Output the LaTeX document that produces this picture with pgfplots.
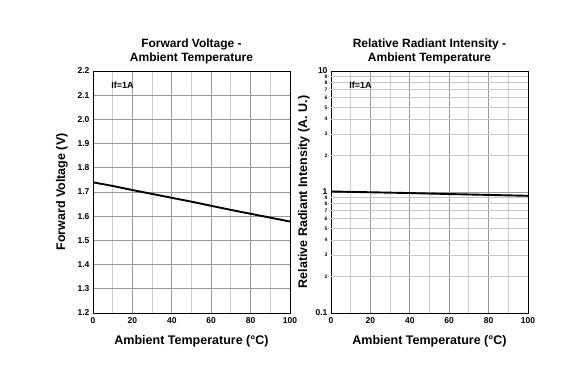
\documentclass[border=0pt]{standalone}
\usepackage{fontspec}
\setmainfont{Liberation Sans}
\usepackage{pgfplots}
\pgfplotsset{compat=1.18}
\pgfplotsset{
  common/.style={
    scale only axis, width=197pt, height=242pt, anchor=south west,
    xmin=0, xmax=100,
    xtick={0,20,40,60,80,100}, minor xtick={10,30,50,70,90},
    xmajorgrids, xminorgrids, ymajorgrids,
    major grid style={gray!80, line width=0.7pt},
    minor grid style={gray!40, line width=1.1pt},
    tick style={draw=none},
    axis line style={line width=0.9pt},
    ticklabel style={font=\bfseries\fontsize{8.5}{9}\selectfont},
    xticklabel style={yshift=-1pt},
    /pgf/number format/assume math mode=true,
    title style={align=center, font=\bfseries\fontsize{12}{14}\selectfont, yshift=-3pt},
    label style={font=\bfseries\fontsize{12.5}{14}\selectfont},
    xlabel={Ambient Temperature (°C)},
    xlabel style={yshift=-5pt},
  }
}
\begin{document}
\begin{tikzpicture}[x=1pt,y=1pt]
\path[use as bounding box] (0,0) rectangle (562,378);
\begin{axis}[common, at={(93pt,65pt)},
  ymin=1.2, ymax=2.2,
  ytick={1.2,1.3,1.4,1.5,1.6,1.7,1.8,1.9,2.0,2.1,2.2},
  yticklabels={1.2,1.3,1.4,1.5,1.6,1.7,1.8,1.9,2.0,2.1,2.2},
  title={Forward Voltage -\\Ambient Temperature},
  ylabel={Forward Voltage (V)},
  ylabel style={yshift=3pt},
]
\addplot[black, line width=1.9pt] coordinates {(0,1.74)(10,1.725)(20,1.708)(30,1.692)(40,1.676)(50,1.66)(60,1.643)(70,1.626)(80,1.61)(90,1.594)(100,1.578)};
\node[font=\bfseries\fontsize{9}{10}\selectfont] at (rel axis cs:0.15,0.942) {If=1A};
\end{axis}
\begin{axis}[common, at={(331pt,65pt)},
  ymode=log, ymin=0.1, ymax=10,
  ytick={0.1,1,10}, yticklabels={0.1,1,10},
  extra y ticks={0.2,0.3,0.4,0.5,0.6,0.7,0.8,0.9,2,3,4,5,6,7,8,9},
  extra y tick labels={2,3,4,5,6,7,8,9,2,3,4,5,6,7,8,9},
  extra y tick style={major grid style={gray!45, line width=0.9pt},
     yticklabel style={font=\bfseries\fontsize{5}{5}\selectfont}},
  title={Relative Radiant Intensity -\\Ambient Temperature},
  ylabel={Relative Radiant Intensity (A. U.)},
  ylabel style={yshift=-1pt},
]
\addplot[black, line width=1.9pt] coordinates {(0,1.01)(20,0.995)(40,0.98)(60,0.962)(80,0.946)(100,0.93)};
\node[font=\bfseries\fontsize{9}{10}\selectfont] at (rel axis cs:0.15,0.942) {If=1A};
\end{axis}
\end{tikzpicture}
\end{document}
